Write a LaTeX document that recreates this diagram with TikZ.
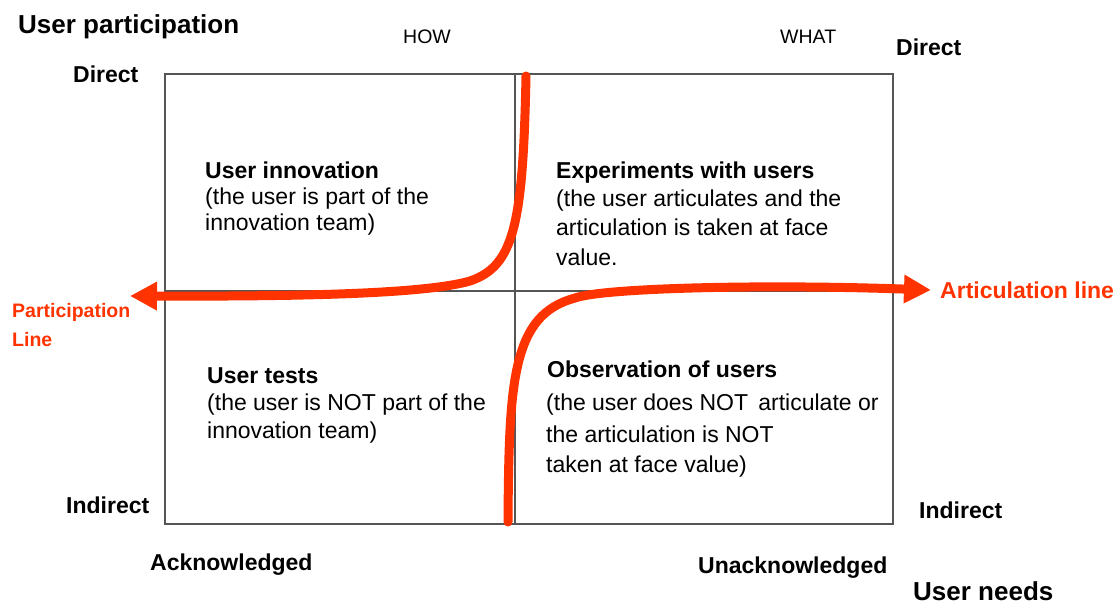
\documentclass[tikz,border=0pt]{standalone}
\usepackage{fontspec}
\setmainfont{Liberation Sans}
\usetikzlibrary{arrows.meta}
\definecolor{ared}{HTML}{FF3300}
\definecolor{gridgray}{HTML}{555555}
\begin{document}
\begin{tikzpicture}[x=1pt,y=-1pt,
  title/.style={anchor=base west, inner sep=0pt, font=\fontsize{23}{26}\selectfont\bfseries},
  bigtitle/.style={anchor=base west, inner sep=0pt, font=\fontsize{26}{30}\selectfont\bfseries},
  body/.style={anchor=base west, inner sep=0pt, font=\fontsize{23}{26}\selectfont},
  small/.style={anchor=base west, inner sep=0pt, font=\fontsize{19.5}{22}\selectfont},
  redlbl/.style={anchor=base west, inner sep=0pt, text=ared, font=\fontsize{23}{26}\selectfont\bfseries},
  redsmall/.style={anchor=base west, inner sep=0pt, text=ared, font=\fontsize{19.5}{22}\selectfont\bfseries},
  gridline/.style={draw=gridgray, line width=2.5pt},
  redline/.style={draw=ared, line width=9pt, line cap=round, -{Triangle[length=27pt,width=27pt]}}
]
\useasboundingbox (0,0) rectangle (1120,605);

% box and quadrant lines
\coordinate (bTL) at (165,74);
\coordinate (bBR) at (893,524);
\coordinate (vT) at (515,74);
\coordinate (vB) at (515,524);
\coordinate (hL) at (165,291);
\coordinate (hR) at (893,291);
\draw[gridline] (bTL) rectangle (bBR);
\draw[gridline] (vT) -- (vB);
\draw[gridline] (hL) -- (hR);

% axis labels
\node[bigtitle] (uparticip) at (18,33) {User participation};
\node[small] (how) at (403,43) {HOW};
\node[small] (what) at (780,43) {WHAT};
\node[title] (dirL) at (73,82) {Direct};
\node[title] (dirR) at (896,55) {Direct};
\node[title] (indL) at (66,513) {Indirect};
\node[title] (indR) at (919,518) {Indirect};
\node[title] (ack) at (150,570) {Acknowledged};
\node[title] (unack) at (698,573) {Unacknowledged};
\node[bigtitle] (uneeds) at (913,600) {User needs};

% quadrant texts
\node[title] (tl1) at (205,178) {User innovation};
\node[body] (tl2) at (205,204) {(the user is part of the};
\node[body] (tl3) at (205,230) {innovation team)};

\node[title] (tr1) at (556,178) {Experiments with users};
\node[body] (tr2) at (556,206) {(the user articulates and the};
\node[body] (tr3) at (556,235) {articulation is taken at face};
\node[body] (tr4) at (556,265) {value.};

\node[title] (bl1) at (207,383) {User tests};
\node[body] (bl2) at (207,410) {(the user is NOT part of the};
\node[body] (bl3) at (207,438) {innovation team)};

\node[title] (br1) at (547,377) {Observation of users};
\node[body] (br2) at (546,410) {(the user does NOT\, articulate or};
\node[body] (br3) at (546,442) {the articulation is NOT};
\node[body] (br4) at (546,472) {taken at face value)};

% red lines
\coordinate (pS) at (526,76);
\coordinate (pM) at (470,281);
\coordinate (pE) at (130,296);
\draw[redline] (pS) .. controls (523,225) and (514,266) .. (pM)
  .. controls (425,294) and (300,296.5) .. (pE);

\coordinate (aS) at (508,522);
\coordinate (aM) at (575,298);
\coordinate (aE) at (931,290);
\draw[redline] (aS) .. controls (509,380) and (512,315) .. (aM)
  .. controls (603,288) and (760,284) .. (aE);

\node[redlbl] (artic) at (940,298) {Articulation line};
\node[redsmall] (partic1) at (12,317) {Participation};
\node[redsmall] (partic2) at (12,346) {Line};
\end{tikzpicture}
\end{document}
